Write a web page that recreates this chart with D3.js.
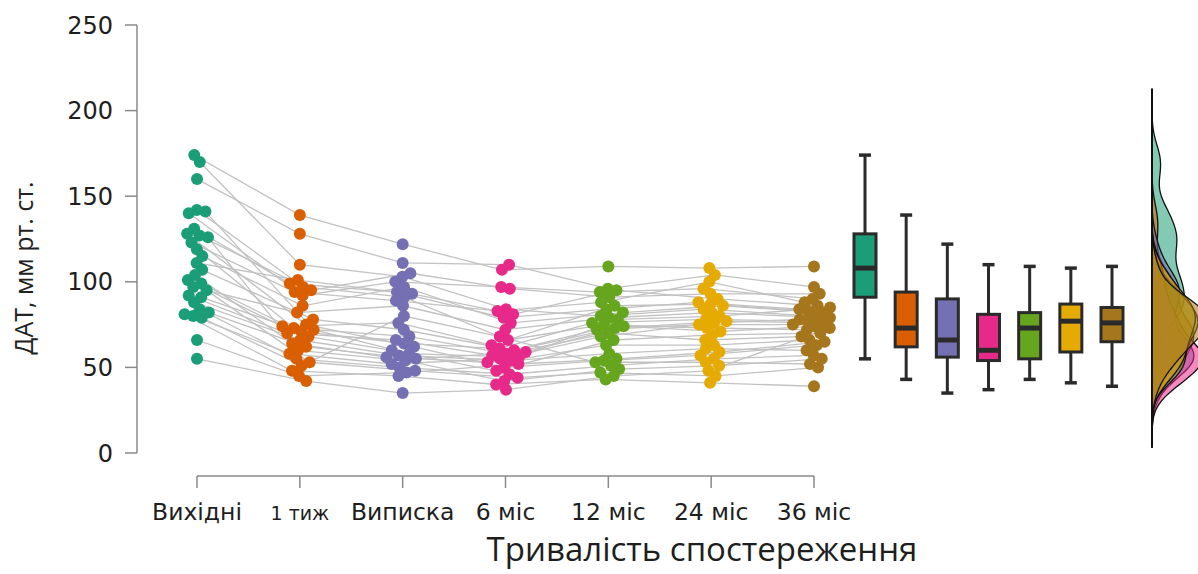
<!DOCTYPE html>
<html>
<head>
<meta charset="utf-8">
<script src="https://cdn.jsdelivr.net/npm/d3@7"></script>
<style>
  body { margin: 0; background: #fff; }
  svg { display: block; font-family: "Open Sans", "Noto Sans", sans-serif; }
  .tick-label { font-family: "DejaVu Sans", sans-serif; }
</style>
</head>
<body>
<div class="home"></div>
<script>
// categories on the x axis
const categories = ["Вихідні", "1 тиж", "Виписка", "6 міс", "12 міс", "24 міс", "36 міс"];
const colors = ["#1b9e77", "#d95f02", "#7570b3", "#e7298a", "#66a61e", "#e6ab02", "#a6761d"];
const yTicks = [0, 50, 100, 150, 200, 250];

// DAT per patient (index = patient) at each visit
const baseline = [174, 170, 160, 142, 141, 140, 131, 128, 127, 126, 123, 119, 115, 111, 107, 104, 101, 99, 97, 95, 92, 91, 88, 84, 82, 81, 80, 79, 66, 55];
const week1    = [139, 110, 128, 97, 72, 92, 99, 75, 95, 60, 94, 73, 86, 101, 78, 64, 74, 68, 82, 53, 70, 71, 66, 55, 62, 48, 58, 51, 45, 42];
const discharge= [122, 103, 111, 91, 58, 100, 94, 62, 105, 54, 89, 68, 97, 93, 72, 56, 76, 60, 86, 48, 66, 64, 57, 50, 55, 45, 52, 80, 47, 35];
const month6   = [107, 84, 110, 66, 56, 97, 79, 50, 96, 42, 83, 58, 76, 81, 60, 53, 63, 48, 72, 44, 57, 61, 54, 46, 59, 40, 55, 68, 52, 37];
const month12  = [109, 80, 96, 75, 78, 94, 84, 54, 91, 49, 88, 70, 82, 95, 73, 58, 86, 66, 79, 47, 72, 76, 63, 51, 74, 43, 68, 53, 55, 45];
const month24  = [108, 84, 104, 73, 80, 96, 88, 57, 93, 51, 100, 66, 86, 90, 77, 61, 87, 69, 82, 45, 75, 78, 63, 55, 71, 41, 76, 53, 59, 48];
const month36  = [109, 80, 97, 72, 85, 90, 84, 63, 93, 55, 88, 68, 82, 86, 76, 60, 83, 70, 79, 50, 75, 77, 66, 57, 74, 39, 78, 52, 65, 73];
const visits = [baseline, week1, discharge, month6, month12, month24, month36];

// box plot stats
const boxHi  = [174, 139, 122, 110, 109, 108, 109];
const boxQ3  = [128, 94, 90, 81, 82, 87, 85];
const boxMed = [108, 73, 66, 60, 73, 77, 76];
const boxQ1  = [91, 62, 56, 54, 55, 59, 65];
const boxLo  = [55, 43, 35, 37, 43, 41, 39];

const width = 1198, height = 574;
const svg = d3.select(".home").append("svg")
  .attr("width", width).attr("height", height);

const y = d3.scaleLinear().domain([0, 250]).range([453, 25]);
const x = d3.scalePoint().domain(categories).range([197, 814]);
const xBox = d3.scalePoint().domain(d3.range(7)).range([865, 1112]);

// y axis
svg.append("line").attr("x1", 137).attr("x2", 137).attr("y1", y(250)).attr("y2", y(0))
  .attr("stroke", "#8a8a8a").attr("stroke-width", 1.5);
const yt = svg.selectAll(".ytick").data(yTicks).enter().append("g")
  .attr("transform", d => "translate(0," + y(d) + ")");
yt.append("line").attr("x1", 125).attr("x2", 137).attr("stroke", "#8a8a8a").attr("stroke-width", 1.5);
yt.append("text").attr("class", "tick-label").attr("x", 113).attr("dy", "0.36em").attr("text-anchor", "end")
  .style("font-size", "24px").attr("fill", "#1e1e1e").text(d => d);

svg.append("text")
  .attr("transform", "translate(33,268) rotate(-90)")
  .attr("text-anchor", "middle")
  .style("font-size", "25px").attr("fill", "#222")
  .text("ДАТ, мм рт. ст.");

// x axis
svg.append("line").attr("x1", x(categories[0])).attr("x2", x(categories[6]))
  .attr("y1", 476).attr("y2", 476).attr("stroke", "#8a8a8a").attr("stroke-width", 1.5);
const xt = svg.selectAll(".xtick").data(categories).enter().append("g")
  .attr("transform", d => "translate(" + x(d) + ",476)");
xt.append("line").attr("y1", 0).attr("y2", 12).attr("stroke", "#8a8a8a").attr("stroke-width", 1.5);
xt.append("text").attr("class", "tick-label").attr("y", 44).attr("text-anchor", "middle")
  .style("font-size", (d, i) => i == 1 ? "19px" : "23.5px")
  .attr("fill", "#1e1e1e").text(d => d);

svg.append("text").attr("x", 702).attr("y", 561).attr("text-anchor", "middle")
  .style("font-size", "33px").attr("fill", "#1e1e1e")
  .text("Тривалість спостереження");

// jitter each column with a small collide simulation
const pos = visits.map((vals, g) => {
  const cx = x(categories[g]);
  const nodes = vals.map((v, i) => ({ i: i, v: v, x: cx + ((i % 5) - 2) * 2, y: y(v), fy: y(v) }));
  const sim = d3.forceSimulation(nodes)
    .force("x", d3.forceX(cx).strength(0.15))
    .force("c", d3.forceCollide(4.4))
    .stop();
  for (let k = 0; k < 150; k++) sim.tick();
  return nodes;
});

// patient lines
const line = d3.line().x(d => d.x).y(d => d.y);
svg.append("g").selectAll("path").data(baseline.map((_, i) => pos.map(col => col[i])))
  .enter().append("path")
  .attr("d", line).attr("fill", "none")
  .attr("stroke", "#c2c2c2").attr("stroke-width", 1.3);

// points
pos.forEach((col, g) => {
  svg.append("g").selectAll("circle").data(col).enter().append("circle")
    .attr("cx", d => d.x).attr("cy", d => d.y).attr("r", 6)
    .attr("fill", colors[g]);
});

// box plots
const bw = 22;
const boxes = svg.append("g").selectAll("g").data(d3.range(7)).enter().append("g")
  .attr("transform", i => "translate(" + xBox(i) + ",0)");
boxes.append("line").attr("y1", i => y(boxHi[i])).attr("y2", i => y(boxLo[i]))
  .attr("stroke", "#2a2a2a").attr("stroke-width", 3);
boxes.append("line").attr("x1", -6).attr("x2", 6).attr("y1", i => y(boxHi[i])).attr("y2", i => y(boxHi[i]))
  .attr("stroke", "#2a2a2a").attr("stroke-width", 3.5);
boxes.append("line").attr("x1", -6).attr("x2", 6).attr("y1", i => y(boxLo[i])).attr("y2", i => y(boxLo[i]))
  .attr("stroke", "#2a2a2a").attr("stroke-width", 3.5);
boxes.append("rect").attr("x", -bw / 2).attr("width", bw)
  .attr("y", i => y(boxQ3[i])).attr("height", i => y(boxQ1[i]) - y(boxQ3[i]))
  .attr("fill", i => colors[i]).attr("stroke", "#2a2a2a").attr("stroke-width", 3);
boxes.append("line").attr("x1", -bw / 2).attr("x2", bw / 2).attr("y1", i => y(boxMed[i])).attr("y2", i => y(boxMed[i]))
  .attr("stroke", "#2a2a2a").attr("stroke-width", 5);

// density ridges on the right
const baseX = 1152;
const grid = d3.range(3.5, 213.5, 1);
const kde = (vals, h) => grid.map(t => [t, d3.mean(vals, v => Math.exp(-0.5 * ((t - v) / h) ** 2)) / (h * Math.sqrt(2 * Math.PI))]);
const dens = visits.map(v => kde(v, 9));
const dmax = d3.max(dens, d => d3.max(d, p => p[1]));
const dx = d3.scaleLinear().domain([0, dmax]).range([0, 56]);
const area = d3.area().curve(d3.curveBasis)
  .y(d => y(d[0])).x0(baseX).x1(d => baseX + dx(d[1]));
svg.append("g").selectAll("path").data(dens).enter().append("path")
  .attr("d", area)
  .attr("fill", (d, i) => colors[i]).attr("fill-opacity", 0.55)
  .attr("stroke", "#111").attr("stroke-width", 1.3);
svg.append("line").attr("x1", baseX).attr("x2", baseX).attr("y1", y(213)).attr("y2", y(3.5))
  .attr("stroke", "#111").attr("stroke-width", 1.5);
</script>
</body>
</html>
